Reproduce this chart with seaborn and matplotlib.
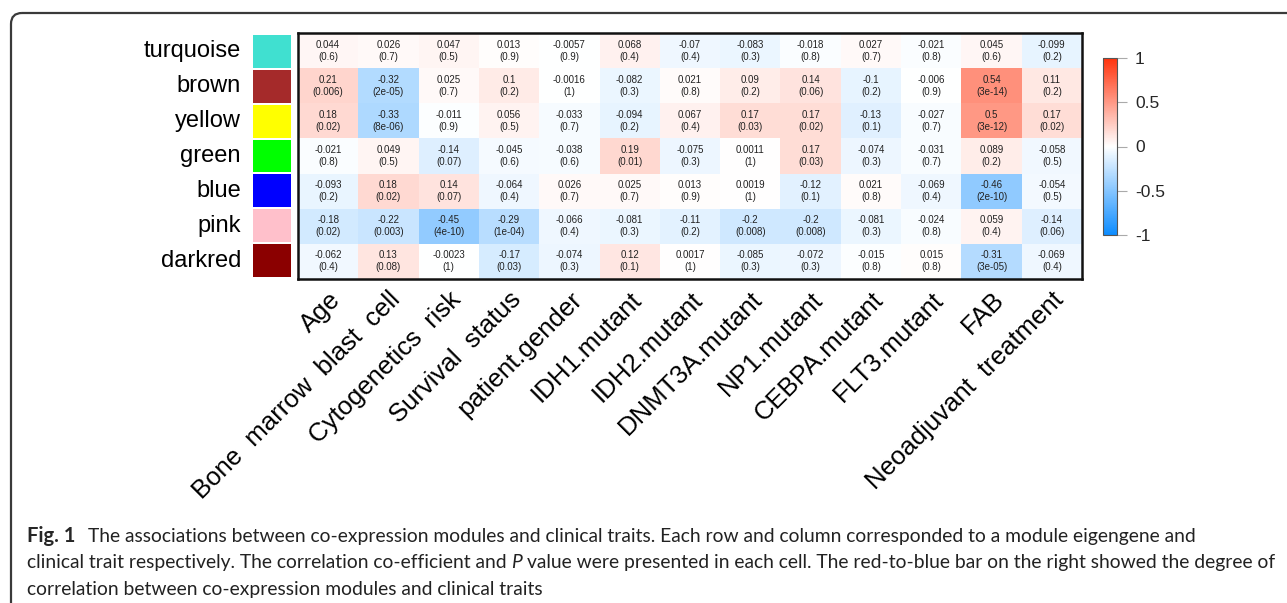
import numpy as np
import pandas as pd
import matplotlib
matplotlib.use("Agg")
import matplotlib.pyplot as plt
import seaborn as sns
from matplotlib.colors import LinearSegmentedColormap, ListedColormap
from matplotlib.patches import FancyBboxPatch

# ---- data -----------------------------------------------------------------
modules = ["turquoise", "brown", "yellow", "green", "blue", "pink", "darkred"]
module_colors = ["#40E0D0", "#A52A2A", "#FFFF00", "#00FF00", "#0000FF", "#FFC0CB", "#8B0000"]
traits = ["Age", "Bone  marrow  blast  cell", "Cytogenetics  risk", "Survival  status",
          "patient.gender", "IDH1.mutant", "IDH2.mutant", "DNMT3A.mutant", "NP1.mutant",
          "CEBPA.mutant", "FLT3.mutant", "FAB", "Neoadjuvant  treatment"]

cor_turquoise = [0.044, 0.026, 0.047, 0.013, -0.0057, 0.068, -0.07, -0.083, -0.018, 0.027, -0.021, 0.045, -0.099]
p_turquoise = ["0.6", "0.7", "0.5", "0.9", "0.9", "0.4", "0.4", "0.3", "0.8", "0.7", "0.8", "0.6", "0.2"]
cor_brown = [0.21, -0.32, 0.025, 0.1, -0.0016, -0.082, 0.021, 0.09, 0.14, -0.1, -0.006, 0.54, 0.11]
p_brown = ["0.006", "2e-05", "0.7", "0.2", "1", "0.3", "0.8", "0.2", "0.06", "0.2", "0.9", "3e-14", "0.2"]
cor_yellow = [0.18, -0.33, -0.011, 0.056, -0.033, -0.094, 0.067, 0.17, 0.17, -0.13, -0.027, 0.5, 0.17]
p_yellow = ["0.02", "8e-06", "0.9", "0.5", "0.7", "0.2", "0.4", "0.03", "0.02", "0.1", "0.7", "3e-12", "0.02"]
cor_green = [-0.021, 0.049, -0.14, -0.045, -0.038, 0.19, -0.075, 0.0011, 0.17, -0.074, -0.031, 0.089, -0.058]
p_green = ["0.8", "0.5", "0.07", "0.6", "0.6", "0.01", "0.3", "1", "0.03", "0.3", "0.7", "0.2", "0.5"]
cor_blue = [-0.093, 0.18, 0.14, -0.064, 0.026, 0.025, 0.013, 0.0019, -0.12, 0.021, -0.069, -0.46, -0.054]
p_blue = ["0.2", "0.02", "0.07", "0.4", "0.7", "0.7", "0.9", "1", "0.1", "0.8", "0.4", "2e-10", "0.5"]
cor_pink = [-0.18, -0.22, -0.45, -0.29, -0.066, -0.081, -0.11, -0.2, -0.2, -0.081, -0.024, 0.059, -0.14]
p_pink = ["0.02", "0.003", "4e-10", "1e-04", "0.4", "0.3", "0.2", "0.008", "0.008", "0.3", "0.8", "0.4", "0.06"]
cor_darkred = [-0.062, 0.13, -0.0023, -0.17, -0.074, 0.12, 0.0017, -0.085, -0.072, -0.015, 0.015, -0.31, -0.069]
p_darkred = ["0.4", "0.08", "1", "0.03", "0.3", "0.1", "1", "0.3", "0.3", "0.8", "0.8", "3e-05", "0.4"]

cbar_ticks = [-1, -0.5, 0, 0.5, 1]
cbar_ticklabels = ["-1", "-0.5", "0", "0.5", "1"]

caption_bold = "Fig. 1"
caption_line1 = "The associations between co-expression modules and clinical traits. Each row and column corresponded to a module eigengene and"
caption_line2a = "clinical trait respectively. The correlation co-efficient and"
caption_line2b = "P"
caption_line2c = "value were presented in each cell. The red-to-blue bar on the right showed the degree of"
caption_line3 = "correlation between co-expression modules and clinical traits"

# ---- tables ---------------------------------------------------------------
cor = pd.DataFrame([cor_turquoise, cor_brown, cor_yellow, cor_green, cor_blue, cor_pink, cor_darkred],
                   index=modules, columns=traits)
pvals = pd.DataFrame([p_turquoise, p_brown, p_yellow, p_green, p_blue, p_pink, p_darkred],
                     index=modules, columns=traits)
annot = np.array([[f"{cor.iat[i, j]:g}\n({pvals.iat[i, j]})" for j in range(len(traits))]
                  for i in range(len(modules))])

# ---- figure ---------------------------------------------------------------
W, H = 1287, 603
sns.set_theme(style="white")
plt.rcParams["font.family"] = ["Liberation Sans", "DejaVu Sans"]
fig = plt.figure(figsize=(W / 100, H / 100), dpi=100)
fig.patch.set_facecolor("white")


def px_axes(x0, y0, x1, y1):
    """Axes placed by pixel box (top-left origin)."""
    return fig.add_axes([x0 / W, 1 - y1 / H, (x1 - x0) / W, (y1 - y0) / H])


# overlay in pixel units for the frame and caption
ov = fig.add_axes([0, 0, 1, 1])
ov.set_xlim(0, W)
ov.set_ylim(H, 0)
ov.axis("off")
ov.add_patch(FancyBboxPatch((11, 13), W + 40, H + 40,
                            boxstyle="round,pad=0,rounding_size=11",
                            fc="none", ec="#3a3a3a", lw=1.6))

ax = px_axes(298, 33, 1082, 279)
cax = px_axes(1103, 58, 1117, 235)
sax = px_axes(252, 34, 292, 278)

cmap = LinearSegmentedColormap.from_list(
    "bwr_wgcna", [(0.05, 0.55, 1.0), (1, 1, 1), (1.0, 0.2, 0.05)], N=256)

sns.heatmap(cor, ax=ax, cmap=cmap, vmin=-1, vmax=1, annot=annot, fmt="",
            annot_kws={"fontsize": 7, "color": "#222222", "linespacing": 1.25},
            cbar_ax=cax, cbar_kws={"ticks": cbar_ticks}, linewidths=0)
ax.set_xlabel("")
ax.set_ylabel("")
ax.set_yticks([])
ax.tick_params(axis="x", length=0, pad=6)
ax.set_xticklabels(traits, rotation=45, ha="right", rotation_mode="anchor",
                   fontsize=18.5, color="black")
for s in ax.spines.values():
    s.set_visible(True)
    s.set_linewidth(1.8)
    s.set_color("#111111")

# colour bar styling
cbar = ax.collections[0].colorbar
cbar.set_ticks(cbar_ticks)
cbar.set_ticklabels(cbar_ticklabels)
cbar.outline.set_edgecolor("#555555")
cbar.outline.set_linewidth(0.8)
cax.tick_params(length=7, width=0.8, color="#aaaaaa", labelsize=12.5, pad=6)

# module colour column
swatch = pd.DataFrame(np.arange(len(modules)).reshape(-1, 1), index=modules, columns=[""])
sns.heatmap(swatch, ax=sax, cmap=ListedColormap(module_colors), cbar=False,
            linewidths=1.2, linecolor="white")
sax.set_xticks([])
sax.set_xlabel("")
sax.set_ylabel("")
sax.tick_params(axis="y", length=0, pad=8)
sax.set_yticklabels(modules, rotation=0, fontsize=17, color="black")

# caption
fig.canvas.draw()
renderer = fig.canvas.get_renderer()
cap_font = ["Lato", "DejaVu Sans"]


def measure(txt, **kw):
    t = ov.text(0, 0, txt, **kw)
    bb = t.get_window_extent(renderer)
    t.remove()
    return bb.width


size = 15.0
w2 = (measure(caption_line2a, family=cap_font, fontsize=size)
      + measure(caption_line2b, family=cap_font, fontsize=size, style="italic")
      + measure(caption_line2c, family=cap_font, fontsize=size))
size = size * 1240 / w2
space = measure("a a", family=cap_font, fontsize=size) - measure("aa", family=cap_font, fontsize=size)

x = 27
ov.text(x, 542, caption_bold, family=cap_font, fontsize=size * 1.05, weight="bold", va="baseline")
x += measure(caption_bold, family=cap_font, fontsize=size * 1.05, weight="bold") + 2.6 * space
ov.text(x, 542, caption_line1, family=cap_font, fontsize=size, va="baseline", color="#222222")

x = 27
ov.text(x, 568, caption_line2a, family=cap_font, fontsize=size, va="baseline", color="#222222")
x += measure(caption_line2a, family=cap_font, fontsize=size) + space
ov.text(x, 568, caption_line2b, family=cap_font, fontsize=size, style="italic", va="baseline", color="#222222")
x += measure(caption_line2b, family=cap_font, fontsize=size, style="italic") + space
ov.text(x, 568, caption_line2c, family=cap_font, fontsize=size, va="baseline", color="#222222")

ov.text(27, 595, caption_line3, family=cap_font, fontsize=size, va="baseline", color="#222222")

fig.savefig("out.png", dpi=100, facecolor="white")
